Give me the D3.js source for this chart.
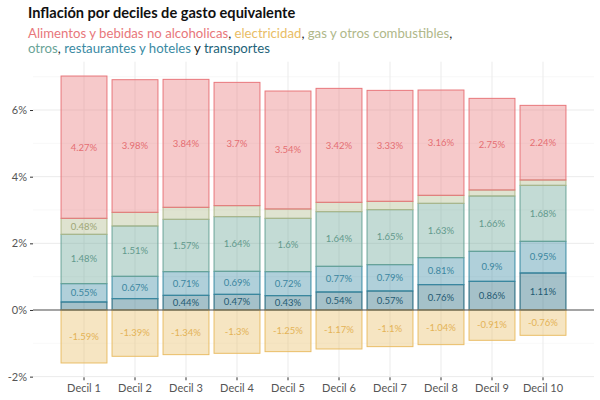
<!DOCTYPE html>
<html>
<head>
<meta charset="utf-8">
<script src="https://cdn.jsdelivr.net/npm/d3@7"></script>
<style>
body{margin:0;background:#fff;font-family:Lato,sans-serif}
svg{display:block}
</style>
</head>
<body>
<div id="chart"></div>
<script>
var deciles=["Decil 1","Decil 2","Decil 3","Decil 4","Decil 5","Decil 6","Decil 7","Decil 8","Decil 9","Decil 10"];
// stacked from the bottom up
var transportes=[0.24,0.34,0.44,0.47,0.43,0.54,0.57,0.76,0.86,1.11];
var restaurantes=[0.55,0.67,0.71,0.69,0.72,0.77,0.79,0.81,0.9,0.95];
var otros=[1.48,1.51,1.57,1.64,1.6,1.64,1.65,1.63,1.66,1.68];
var gas=[0.48,0.41,0.36,0.33,0.28,0.28,0.25,0.24,0.18,0.16];
var alimentos=[4.27,3.98,3.84,3.7,3.54,3.42,3.33,3.16,2.75,2.24];
var electricidad=[-1.59,-1.39,-1.34,-1.3,-1.25,-1.17,-1.1,-1.04,-0.91,-0.76];
var yTicks=[-2,0,2,4,6];
var yMinor=[-1,1,3,5,7];

var series=[
  {name:"transportes",values:transportes,col:"#1d6379",txt:"#1f5a72"},
  {name:"restaurantes",values:restaurantes,col:"#3a8aa3",txt:"#3a86a0"},
  {name:"otros",values:otros,col:"#6aa497",txt:"#62998c"},
  {name:"gas",values:gas,col:"#b0b88a",txt:"#9ea676"},
  {name:"alimentos",values:alimentos,col:"#e8777b",txt:"#e56e72"}
];
var neg={name:"electricidad",values:electricidad,col:"#e9bd66",txt:"#e4b356"};

var W=600,H=400;
var svg=d3.select("#chart").append("svg").attr("width",W).attr("height",H);

var x=d3.scaleBand().domain(deciles).range([33,594]).paddingInner(0.1).paddingOuter(0.55);
var y=d3.scaleLinear().domain([-2.02,7.45]).range([377.3,61.7]);

// grid
var grid=svg.append("g");
grid.selectAll("line.minor").data(yMinor).enter().append("line")
  .attr("x1",33).attr("x2",594).attr("y1",function(d){return y(d)}).attr("y2",function(d){return y(d)})
  .attr("stroke","#f3f3f3").attr("stroke-width",0.6);
grid.selectAll("line.major").data(yTicks).enter().append("line")
  .attr("x1",33).attr("x2",594).attr("y1",function(d){return y(d)}).attr("y2",function(d){return y(d)})
  .attr("stroke","#ebebeb").attr("stroke-width",1);
grid.selectAll("line.v").data(deciles).enter().append("line")
  .attr("x1",function(d){return x(d)+x.bandwidth()/2}).attr("x2",function(d){return x(d)+x.bandwidth()/2})
  .attr("y1",61.7).attr("y2",377.3).attr("stroke","#ebebeb").attr("stroke-width",1);

// build stacked rects
var rects=[];
deciles.forEach(function(d,i){
  var base=0;
  series.forEach(function(s){
    var v=s.values[i];
    rects.push({decil:d,y0:base,y1:base+v,v:v,col:s.col,txt:s.txt});
    base+=v;
  });
  rects.push({decil:d,y0:neg.values[i],y1:0,v:neg.values[i],col:neg.col,txt:neg.txt});
});

var bars=svg.append("g");
bars.selectAll("rect").data(rects).enter().append("rect")
  .attr("x",function(d){return x(d.decil)})
  .attr("width",x.bandwidth())
  .attr("y",function(d){return y(d.y1)})
  .attr("height",function(d){return y(d.y0)-y(d.y1)})
  .attr("fill",function(d){return d.col})
  .attr("fill-opacity",0.4)
  .attr("stroke",function(d){return d.col})
  .attr("stroke-width",1);

bars.selectAll("text").data(rects.filter(function(d){return Math.abs(d.v)>=0.42})).enter().append("text")
  .attr("x",function(d){return x(d.decil)+x.bandwidth()/2})
  .attr("y",function(d){return y((d.y0+d.y1)/2)})
  .attr("dy","0.35em")
  .attr("text-anchor","middle")
  .attr("font-size",9.5)
  .attr("fill",function(d){return d.txt})
  .text(function(d){return d.v+"%"});

// zero line
svg.append("line").attr("x1",33).attr("x2",594).attr("y1",y(0)).attr("y2",y(0))
  .attr("stroke","#555").attr("stroke-width",1.2);

// axes
var yAxis=svg.append("g").attr("transform","translate(33,0)")
  .call(d3.axisLeft(y).tickValues(yTicks).tickFormat(function(d){return d+"%"}).tickSize(3).tickPadding(3));
var xAxis=svg.append("g").attr("transform","translate(0,377.3)")
  .call(d3.axisBottom(x).tickSize(3).tickPadding(4));
[yAxis,xAxis].forEach(function(a){
  a.select(".domain").remove();
  a.selectAll(".tick line").attr("stroke","#333");
  a.selectAll("text").attr("font-size",11).attr("fill","#555").attr("font-family","Lato,sans-serif");
});

// title and legend text
svg.append("text").attr("x",28).attr("y",18).attr("font-size",14.6).attr("font-weight","bold")
  .attr("fill","#111").text("Inflación por deciles de gasto equivalente");
var l1=svg.append("text").attr("x",28).attr("y",38).attr("font-size",13.2);
var parts1=[["Alimentos y bebidas no alcoholicas","#e8777b"],[", ","#222"],["electricidad","#e9bd66"],[", ","#222"],["gas y otros combustibles","#b0b88a"],[",","#222"]];
parts1.forEach(function(p){l1.append("tspan").attr("fill",p[1]).text(p[0])});
var l2=svg.append("text").attr("x",28).attr("y",53).attr("font-size",13.2);
var parts2=[["otros","#6aa497"],[", ","#222"],["restaurantes y hoteles","#3a8aa3"],[" y ","#222"],["transportes","#1d6379"]];
parts2.forEach(function(p){l2.append("tspan").attr("fill",p[1]).text(p[0])});
</script>
</body>
</html>
